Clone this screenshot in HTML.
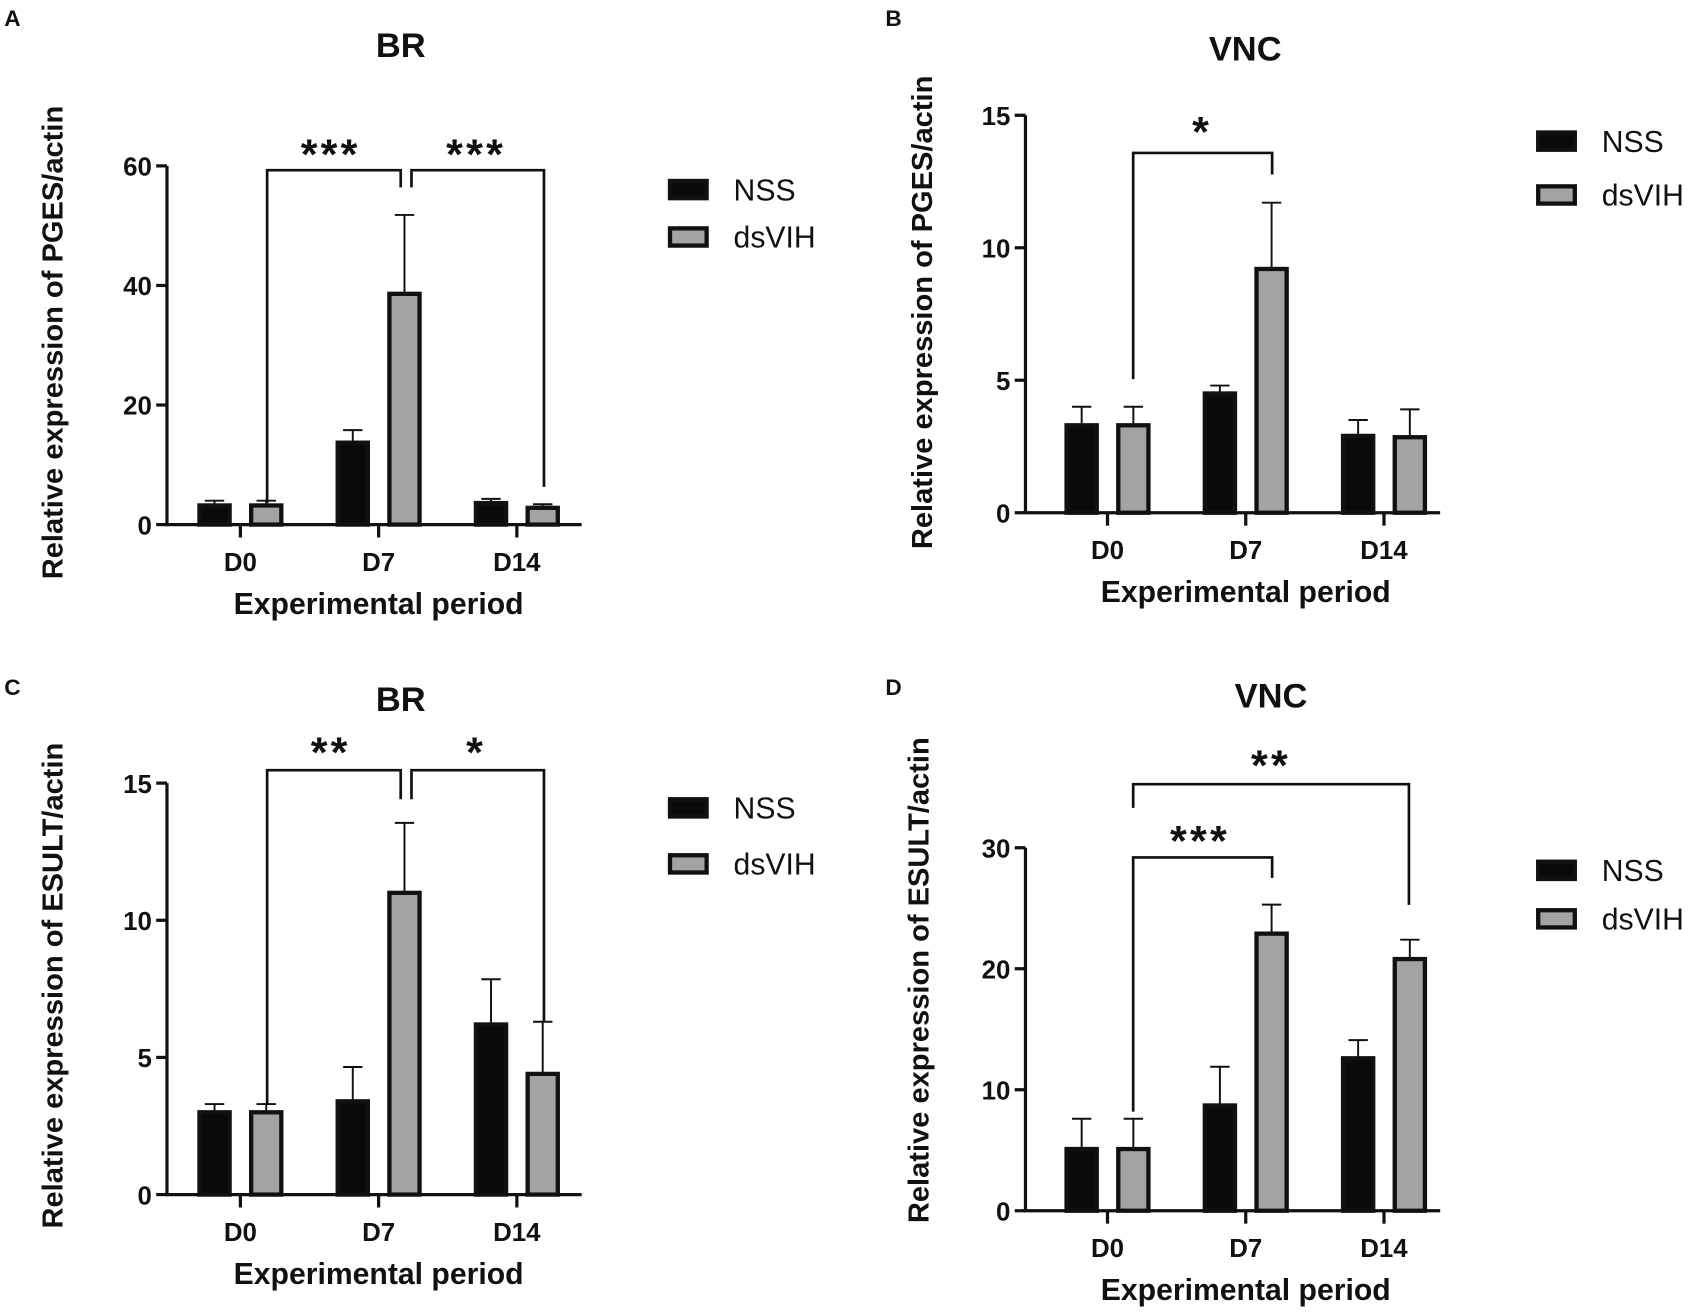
<!DOCTYPE html>
<html><head><meta charset="utf-8">
<style>
html,body{margin:0;padding:0;background:#fff;}
svg{display:block;font-family:"Liberation Sans",Arial,sans-serif;}
</style></head>
<body>
<svg id="fig" width="1689" height="1312" viewBox="0 0 1568 1218" xmlns="http://www.w3.org/2000/svg"></svg>
<script>
const categories = ["D0","D7","D14"];
const seriesNames = ["NSS","dsVIH"];
// Panel A
const aNSS = [3.2,13.7,3.6];
const aNSSerr = [0.8,2.1,0.7];
const aVIH = [3.2,38.6,2.8];
const aVIHerr = [0.8,13.2,0.6];
const aTicks = [0,20,40,60];
// Panel B
const bNSS = [3.3,4.5,2.9];
const bNSSerr = [0.7,0.3,0.6];
const bVIH = [3.3,9.2,2.85];
const bVIHerr = [0.7,2.5,1.05];
const bTicks = [0,5,10,15];
// Panel C
const cNSS = [3.0,3.4,6.2];
const cNSSerr = [0.3,1.25,1.65];
const cVIH = [3.0,11.0,4.4];
const cVIHerr = [0.3,2.55,1.9];
const cTicks = [0,5,10,15];
// Panel D
const dNSS = [5.1,8.7,12.6];
const dNSSerr = [2.5,3.2,1.5];
const dVIH = [5.1,22.9,20.8];
const dVIHerr = [2.5,2.4,1.6];
const dTicks = [0,10,20,30];

const NS="http://www.w3.org/2000/svg";
const svg=document.getElementById('fig');
function mk(tag,attrs,parent){const e=document.createElementNS(NS,tag);for(const k in attrs)e.setAttribute(k,attrs[k]);(parent||svg).appendChild(e);return e;}
function txt(s,x,y,size,anchor,parent,extra){const t=mk('text',Object.assign({x:x,y:y,'font-size':size,'font-weight':'bold','text-anchor':anchor||'middle',fill:'#111'},extra||{}),parent);t.textContent=s;return t;}

function panel(p){
  const g=mk('g',{});
  
  
  const ymax=p.ticks[p.ticks.length-1];
  const y=v=>p.y0-(v/ymax)*(p.y0-p.yTop);
  const x0=p.xL, x1=p.xR;
  const catW=(x1-x0)/categories.length;
  const cx=i=>x0+catW*(i+0.5)+p.shift;
  const l=txt(p.letter,p.lx,p.ly,21,'start',g);
  
  
  const t=txt(p.title,p.tx,p.ty,32,'middle',g);
  
  
  const ya=mk('line',{x1:x0,y1:p.y0,x2:x0,y2:p.yTop,stroke:'#111','stroke-width':3},g);
  
  
  const xa=mk('line',{x1:x0-1.5,y1:p.y0,x2:x1,y2:p.y0,stroke:'#111','stroke-width':3},g);
  
  
  p.ticks.forEach(v=>{
    mk('line',{x1:x0-10,y1:y(v),x2:x0,y2:y(v),stroke:'#111','stroke-width':3},g);
    const tl=txt(String(v),x0-14,y(v)+9,24,'end',g);
    
    
  });
  categories.forEach((c,i)=>{
    mk('line',{x1:cx(i),y1:p.y0,x2:cx(i),y2:p.y0+12,stroke:'#111','stroke-width':3},g);
    const tl=txt(c,cx(i),p.y0+43,24,'middle',g);
    
    
  });
  const xt=txt('Experimental period',cx(1),p.y0+83,28,'middle',g);
  
  
  const yt=txt(p.ylabel,0,0,27,'middle',g,{transform:'translate('+p.ylx+','+p.yly+') rotate(-90)'});
  
  
  const bw=32, off=24;
  const series=[[p.nss,p.nssErr,'#0a0a0a'],[p.vih,p.vihErr,'#a3a3a3']];
  series.forEach((s,si)=>{
    s[0].forEach((v,i)=>{
      const bx=cx(i)+(si===0?-off:off)-bw/2;
      const top=y(v);
      const eTop=y(v+s[1][i]);
      const el=mk('line',{x1:bx+bw/2,y1:top,x2:bx+bw/2,y2:eTop,stroke:'#111','stroke-width':1.8},g);
      
      
      const cap=mk('line',{x1:bx+bw/2-9,y1:eTop,x2:bx+bw/2+9,y2:eTop,stroke:'#111','stroke-width':1.8},g);
      
      
      const r=mk('rect',{x:bx+2,y:top,width:bw-4,height:p.y0-top,fill:s[2],stroke:'#111','stroke-width':4},g);
      
      
    });
  });
  p.brackets.forEach(b=>{
    const pl=mk('polyline',{points:b.pts.map(q=>q.join(',')).join(' '),fill:'none',stroke:'#111','stroke-width':2.5},g);
    
    
    const st=txt(b.stars,b.sx,b.sy,40,'middle',g,{'letter-spacing':'3'});
    
    
  });
  const cols=['#0a0a0a','#a3a3a3'];
  seriesNames.forEach((n,i)=>{
    const ly=p.legY[i];
    const r=mk('rect',{x:p.legX+2,y:ly-8,width:34,height:16,fill:cols[i],stroke:'#111','stroke-width':4},g);
    
    
    const lt=txt(n,p.legX+61,ly+10,28,'start',g,{'font-weight':'normal'});
    
    
  });
}

panel({id:'a',letter:'A',lx:4,ly:24,title:'BR',tx:372,ty:53,xL:155,xR:540,shift:4,y0:487,yTop:154,ticks:aTicks,
  nss:aNSS,nssErr:aNSSerr,vih:aVIH,vihErr:aVIHerr,ylabel:'Relative expression of PGES/actin',ylx:58,yly:318,
  brackets:[{pts:[[248,467],[248,158],[372,158],[372,174]],stars:'***',sx:307,sy:157},{pts:[[382,174],[382,158],[505,158],[505,452]],stars:'***',sx:442,sy:157}],
  legX:620,legY:[176,220]});
panel({id:'b',letter:'B',lx:822,ly:24,title:'VNC',tx:1156,ty:56,xL:952,xR:1337,shift:12,y0:476,yTop:107,ticks:bTicks,
  nss:bNSS,nssErr:bNSSerr,vih:bVIH,vihErr:bVIHerr,ylabel:'Relative expression of PGES/actin',ylx:865,yly:290,
  brackets:[{pts:[[1052,352],[1052,142],[1181,142],[1181,162]],stars:'*',sx:1116,sy:136}],
  legX:1426,legY:[131,181]});
panel({id:'c',letter:'C',lx:4,ly:645,title:'BR',tx:372,ty:660,xL:155,xR:540,shift:4,y0:1109,yTop:727,ticks:cTicks,
  nss:cNSS,nssErr:cNSSerr,vih:cVIH,vihErr:cVIHerr,ylabel:'Relative expression of ESULT/actin',ylx:58,yly:915,
  brackets:[{pts:[[248,1025],[248,715],[372,715],[372,742]],stars:'**',sx:307,sy:712},{pts:[[382,742],[382,715],[505,715],[505,948]],stars:'*',sx:442,sy:712}],
  legX:620,legY:[750,802]});
panel({id:'d',letter:'D',lx:822,ly:645,title:'VNC',tx:1180,ty:657,xL:952,xR:1337,shift:12,y0:1124,yTop:787,ticks:dTicks,
  nss:dNSS,nssErr:dNSSerr,vih:dVIH,vihErr:dVIHerr,ylabel:'Relative expression of ESULT/actin',ylx:862,yly:910,
  brackets:[{pts:[[1052,1032],[1052,796],[1181,796],[1181,815]],stars:'***',sx:1114,sy:794},{pts:[[1052,750],[1052,728],[1308,728],[1308,840]],stars:'**',sx:1180,sy:724}],
  legX:1426,legY:[808,853]});
</script>
</body></html>
